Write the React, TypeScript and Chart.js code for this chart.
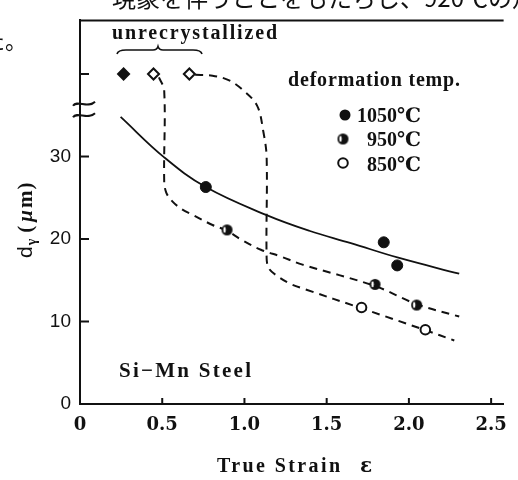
import React, { useEffect, useRef } from "react";
import { Chart, registerables } from "chart.js";

Chart.register(...registerables);

// ---------- data ----------
const X_TICKS = [0, 0.5, 1.0, 1.5, 2.0, 2.5];
const X_TICK_LABELS = ["0", "0.5", "1.0", "1.5", "2.0", "2.5"];
const Y_TICKS = [0, 10, 20, 30, 40];
const Y_TICK_LABELS = ["0", "10", "20", "30", ""];
const X_MIN = 0;
const X_MAX = 2.576;
const Y_MIN = 0;
const Y_MAX = 46.5;
const Y_BREAKS = [36.4, 35.0];

// measured points
const P1050_X = [0.765, 1.847, 1.929];
const P1050_Y = [26.3, 19.6, 16.8];
const P950_X = [0.894, 1.794, 2.047];
const P950_Y = [21.1, 14.5, 12.0];
const P850_X = [1.712, 2.1];
const P850_Y = [11.7, 9.0];
const UNREX_X = [0.265, 0.447, 0.665];
const UNREX_Y = [40, 40, 40];

// fitted curves
const C1050_X = [0.247, 0.512, 0.765, 1.135, 1.394, 1.647, 1.941, 2.306];
const C1050_Y = [34.8, 29.9, 26.3, 22.9, 21.0, 19.5, 17.7, 15.8];
const C950_X = [0.48, 0.512, 0.512, 0.525, 0.56, 0.62, 0.688, 0.806, 0.894, 0.982, 1.1, 1.218, 1.353, 1.794, 2.047, 2.306];
const C950_Y = [39.6, 38.0, 27.0, 25.6, 24.6, 23.6, 22.9, 21.7, 21.0, 19.9, 18.7, 17.9, 16.9, 14.3, 12.1, 10.6];
const C850_X = [0.7, 0.806, 0.9, 0.982, 1.076, 1.115, 1.135, 1.135, 1.15, 1.194, 1.276, 1.371, 1.712, 2.1, 2.276];
const C850_Y = [39.9, 39.8, 39.3, 38.2, 36.2, 33.0, 29.9, 17.6, 16.4, 15.6, 14.6, 13.9, 11.6, 8.95, 7.7];

const LEGEND_TITLE = "deformation temp.";
const LEGEND_LABELS = ["1050℃", "950℃", "850℃"];
const TOP_NOTE = "unrecrystallized";
const STEEL_LABEL = "Si−Mn Steel";
const X_TITLE = "True Strain";
const X_TITLE_SYM = "ε";
const PAGE_TEXT_TOP = "現象を伴うことをもたらし、920℃の規";
const PAGE_TEXT_LEFT = "た。";

const INK = "#111111";
const SERIF = "'Liberation Serif', 'DejaVu Serif', serif";
const DSERIF = "'DejaVu Serif', serif";
const SANS = "'Liberation Sans', 'DejaVu Sans', sans-serif";
const CJK = "'Noto Sans CJK JP', sans-serif";

function pts(xs: number[], ys: number[]) {
  return xs.map((x, i) => ({ x, y: ys[i] }));
}

function makeHalfDot(r: number): HTMLCanvasElement {
  const s = Math.ceil(r * 2 + 4);
  const c = document.createElement("canvas");
  c.width = s;
  c.height = s;
  const g = c.getContext("2d")!;
  g.fillStyle = INK;
  g.beginPath();
  g.arc(s / 2, s / 2, r, 0, Math.PI * 2);
  g.fill();
  g.fillStyle = "#fff";
  g.beginPath();
  g.ellipse(s / 2 - r * 0.45, s / 2 - r * 0.05, r * 0.22, r * 0.55, 0, 0, Math.PI * 2);
  g.fill();
  return c;
}

// draws text, spreading letters so that it fills the given width (if > 0)
function drawText(
  ctx: CanvasRenderingContext2D,
  s: string,
  x: number,
  y: number,
  font: string,
  align: CanvasTextAlign = "left",
  width = 0
) {
  ctx.save();
  ctx.font = font;
  ctx.fillStyle = INK;
  ctx.textBaseline = "alphabetic";
  (ctx as any).letterSpacing = "0px";
  let spacing = 0;
  const chars = Array.from(s).length;
  if (width > 0 && chars > 1) {
    const natural = ctx.measureText(s).width;
    spacing = (width - natural) / (chars - 1);
  }
  (ctx as any).letterSpacing = spacing + "px";
  const total = ctx.measureText(s).width - spacing;
  let left = x;
  if (align === "right") left = x - total;
  else if (align === "center") left = x - total / 2;
  ctx.textAlign = "left";
  ctx.fillText(s, left, y);
  ctx.restore();
}

export default function App() {
  const ref = useRef<HTMLCanvasElement>(null);

  useEffect(() => {
    const canvas = ref.current!;
    const halfDot = makeHalfDot(5.5);

    const overlay = {
      id: "overlay",
      afterDraw(chart: any) {
        const { ctx, chartArea: a, scales } = chart;
        const xs = scales.x;
        const ys = scales.y;
        ctx.save();
        ctx.strokeStyle = INK;
        ctx.lineWidth = 2;
        ctx.lineCap = "butt";
        const line = (x1: number, y1: number, x2: number, y2: number) => {
          ctx.beginPath();
          ctx.moveTo(x1, y1);
          ctx.lineTo(x2, y2);
          ctx.stroke();
        };
        // top frame
        line(a.left - 1, a.top, a.right, a.top);
        // inward ticks
        X_TICKS.slice(1).forEach((v) => {
          const px = xs.getPixelForValue(v);
          line(px, a.bottom, px, a.bottom - 6);
        });
        Y_TICKS.slice(1).forEach((v) => {
          const py = ys.getPixelForValue(v);
          line(a.left, py, a.left + 9, py);
        });
        // axis break marks
        Y_BREAKS.forEach((v) => {
          const py = ys.getPixelForValue(v);
          ctx.beginPath();
          ctx.moveTo(a.left - 7, py + 2);
          ctx.bezierCurveTo(a.left - 3, py - 4, a.left + 8, py + 5, a.left + 15, py - 2);
          ctx.stroke();
        });

        // unrecrystallized label + brace
        drawText(ctx, TOP_NOTE, 112, 39, `bold 20px ${SERIF}`, "left", 165);
        ctx.lineWidth = 1.6;
        ctx.beginPath();
        ctx.moveTo(117, 54);
        ctx.quadraticCurveTo(118, 50, 126, 50);
        ctx.lineTo(153, 50);
        ctx.quadraticCurveTo(157, 50, 158, 46.5);
        ctx.quadraticCurveTo(159, 50, 163, 50);
        ctx.lineTo(193, 50);
        ctx.quadraticCurveTo(201, 50, 202, 54);
        ctx.stroke();

        // legend
        drawText(ctx, LEGEND_TITLE, 288, 86, `bold 20px ${SERIF}`, "left", 172);
        ctx.fillStyle = INK;
        ctx.beginPath();
        ctx.arc(345, 115, 5.5, 0, Math.PI * 2);
        ctx.fill();
        ctx.drawImage(halfDot, 343 - halfDot.width / 2, 139 - halfDot.height / 2);
        ctx.fillStyle = "#fff";
        ctx.lineWidth = 2;
        ctx.beginPath();
        ctx.arc(343, 163, 4.8, 0, Math.PI * 2);
        ctx.fill();
        ctx.stroke();
        const baselines = [122, 146, 171];
        LEGEND_LABELS.forEach((s, i) =>
          drawText(ctx, s, 421, baselines[i], `bold 20px ${SERIF}`, "right", 0)
        );

        // steel label
        drawText(ctx, STEEL_LABEL, 119, 377, `bold 21px ${SERIF}`, "left", 132);

        // x title
        drawText(ctx, X_TITLE, 217, 472, `bold 20px ${SERIF}`, "left", 123);
        drawText(ctx, X_TITLE_SYM, 360, 472, `bold 20px ${DSERIF}`, "left", 0);

        // y title (rotated)
        ctx.save();
        ctx.translate(32, 258);
        ctx.rotate(-Math.PI / 2);
        ctx.fillStyle = INK;
        ctx.textBaseline = "alphabetic";
        ctx.textAlign = "left";
        let cx = 0;
        ctx.font = `21px ${SANS}`;
        ctx.fillText("d", cx, 0);
        cx += ctx.measureText("d").width + 1;
        ctx.font = `bold 14px ${SERIF}`;
        ctx.fillText("γ", cx, 4);
        cx += ctx.measureText("γ").width + 6;
        ctx.font = `bold 21px ${SERIF}`;
        ctx.fillText("(", cx, 0);
        cx += ctx.measureText("(").width + 4;
        ctx.font = `bold italic 21px ${SERIF}`;
        ctx.fillText("μ", cx, 0);
        cx += ctx.measureText("μ").width + 2;
        ctx.font = `bold 21px ${SERIF}`;
        ctx.fillText("m", cx, 0);
        cx += ctx.measureText("m").width + 1;
        ctx.fillText(")", cx, 0);
        ctx.restore();

        // page text fragments from the scanned page
        drawText(ctx, PAGE_TEXT_TOP, 112, 7, `24px ${CJK}`, "left", 0);
        drawText(ctx, PAGE_TEXT_LEFT, 27, 49, `22px ${CJK}`, "right", 0);

        ctx.restore();
      },
    };

    const chart = new Chart(canvas, {
      type: "line",
      data: {
        datasets: [
          {
            label: "1050",
            data: pts(P1050_X, P1050_Y),
            showLine: false,
            pointStyle: "circle",
            pointRadius: 5.5,
            backgroundColor: INK,
            borderColor: INK,
            borderWidth: 1,
          },
          {
            label: "950",
            data: pts(P950_X, P950_Y),
            showLine: false,
            pointStyle: halfDot as any,
            pointRadius: 6,
            backgroundColor: INK,
            borderColor: INK,
          },
          {
            label: "850",
            data: pts(P850_X, P850_Y),
            showLine: false,
            pointStyle: "circle",
            pointRadius: 4.8,
            backgroundColor: "#fff",
            borderColor: INK,
            borderWidth: 2,
          },
          {
            label: "unrecrystallized",
            data: pts(UNREX_X, UNREX_Y),
            showLine: false,
            pointStyle: "rectRot",
            pointRadius: 5.5,
            backgroundColor: [INK, "#fff", "#fff"],
            borderColor: INK,
            borderWidth: 2,
          },
          {
            label: "curve1050",
            data: pts(C1050_X, C1050_Y),
            borderColor: INK,
            borderWidth: 1.8,
            pointRadius: 0,
            tension: 0.4,
            fill: false,
          },
          {
            label: "curve950",
            data: pts(C950_X, C950_Y),
            borderColor: INK,
            borderWidth: 2,
            borderDash: [8, 6],
            pointRadius: 0,
            tension: 0.35,
            fill: false,
          },
          {
            label: "curve850",
            data: pts(C850_X, C850_Y),
            borderColor: INK,
            borderWidth: 2,
            borderDash: [8, 6],
            pointRadius: 0,
            tension: 0.35,
            fill: false,
          },
        ],
      },
      options: {
        animation: false,
        responsive: false,
        events: [],
        layout: { padding: { top: 13, right: 0, left: 0, bottom: 0 } },
        plugins: {
          legend: { display: false },
          tooltip: { enabled: false },
          title: { display: false },
        },
        scales: {
          x: {
            type: "linear",
            min: X_MIN,
            max: X_MAX,
            grid: { display: false, drawTicks: false },
            border: { display: true, color: INK, width: 2 },
            ticks: {
              font: { family: DSERIF, size: 18, weight: "bold" },
              color: INK,
              padding: 11,
              maxRotation: 0,
              autoSkip: false,
              callback: (v: any) => {
                const i = X_TICKS.findIndex((t) => Math.abs(t - v) < 1e-9);
                return i >= 0 ? X_TICK_LABELS[i] : "";
              },
            },
            afterBuildTicks: (s: any) => {
              s.ticks = X_TICKS.map((v) => ({ value: v }));
            },
            afterFit: (s: any) => {
              s.height = 76;
            },
          },
          y: {
            type: "linear",
            min: Y_MIN,
            max: Y_MAX,
            grid: { display: false, drawTicks: false },
            border: { display: true, color: INK, width: 2 },
            ticks: {
              font: { family: SANS, size: 19 },
              color: INK,
              padding: 9,
              autoSkip: false,
              callback: (v: any) => {
                const i = Y_TICKS.findIndex((t) => Math.abs(t - v) < 1e-9);
                return i >= 0 ? Y_TICK_LABELS[i] : "";
              },
            },
            afterBuildTicks: (s: any) => {
              s.ticks = Y_TICKS.map((v) => ({ value: v }));
            },
            afterFit: (s: any) => {
              s.width = 80;
            },
          },
        },
      },
      plugins: [overlay],
    });

    return () => chart.destroy();
  }, []);

  return (
    <div style={{ position: "fixed", left: 0, top: 0, width: 518, height: 480, background: "#fff" }}>
      <canvas ref={ref} width={518} height={480} style={{ width: 518, height: 480, display: "block" }} />
    </div>
  );
}
